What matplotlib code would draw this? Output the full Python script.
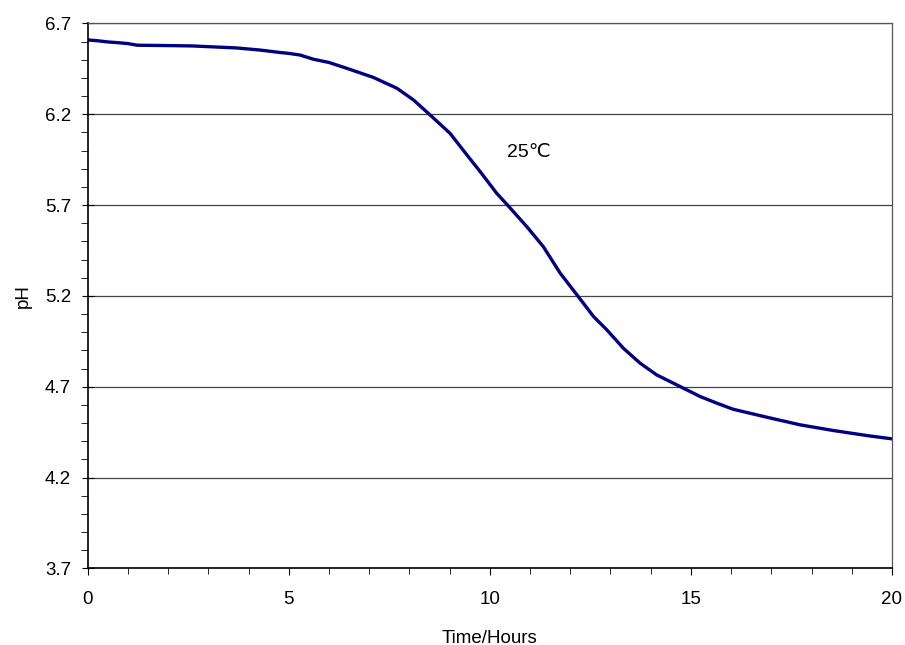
import matplotlib
matplotlib.use("Agg")
import matplotlib.pyplot as plt
from matplotlib.ticker import MultipleLocator

plt.rcParams['font.family'] = ['Liberation Sans', 'DejaVu Sans']

time_h = [0.0, 0.23, 0.5, 0.75, 1.0, 1.23, 2.0, 2.6, 3.2, 3.7, 4.3, 4.78, 5.0, 5.28, 5.61,
          6.0, 6.44, 7.1, 7.69, 8.1, 8.47, 9.01, 9.43, 9.76, 10.17, 10.46, 10.92,
          11.33, 11.75, 12.2, 12.58, 12.91, 13.32, 13.74, 14.15, 14.65, 15.23,
          15.65, 16.05, 16.89, 17.72, 18.54, 19.38, 20.0]
ph = [6.609, 6.605, 6.598, 6.594, 6.589, 6.580, 6.578, 6.576, 6.570, 6.565, 6.553, 6.540,
      6.535, 6.526, 6.503, 6.485, 6.453, 6.403, 6.343, 6.279, 6.205, 6.095, 5.976,
      5.884, 5.765, 5.695, 5.581, 5.471, 5.325, 5.196, 5.086, 5.013, 4.912, 4.829,
      4.765, 4.710, 4.646, 4.609, 4.576, 4.532, 4.490, 4.459, 4.431, 4.413]

y_ticks = [3.7, 4.2, 4.7, 5.2, 5.7, 6.2, 6.7]
x_ticks = [0, 5, 10, 15, 20]
annotation = "25\u2103"

fig = plt.figure(figsize=(9.05, 6.45), dpi=100)
ax = fig.add_axes([0.0969, 0.1188, 0.8887, 0.8449])
ax.plot(time_h, ph, color='#000080', lw=2.4, solid_joinstyle='round')

ax.set_xlim(0, 20)
ax.set_ylim(3.7, 6.7)
ax.set_xticks(x_ticks)
ax.set_yticks(y_ticks)
ax.set_yticklabels([f"{v:.1f}" for v in y_ticks])
ax.xaxis.set_minor_locator(MultipleLocator(1))
ax.yaxis.set_minor_locator(MultipleLocator(0.1))
ax.tick_params(axis='both', which='major', labelsize=13.5, colors='black')
ax.tick_params(axis='y', which='major', direction='inout', length=8, pad=8)
ax.tick_params(axis='y', which='minor', direction='out', length=5)
ax.tick_params(axis='x', which='major', direction='out', length=5, pad=11)
ax.tick_params(axis='x', which='minor', direction='out', length=4)

ax.yaxis.grid(True, which='major', color='#444444', lw=0.9)
ax.set_axisbelow(True)
for s in ['left', 'bottom']:
    ax.spines[s].set_color('black')
    ax.spines[s].set_linewidth(1.2)
for s in ['top', 'right']:
    ax.spines[s].set_color('#555555')
    ax.spines[s].set_linewidth(0.9)

ax.set_xlabel("Time/Hours", fontsize=13.5, labelpad=16)
ax.set_ylabel("pH", fontsize=13.5, labelpad=9)
ax.text(10.42, 5.99, annotation, fontsize=14, va='center', ha='left')

fig.savefig("out.png", dpi=100)
